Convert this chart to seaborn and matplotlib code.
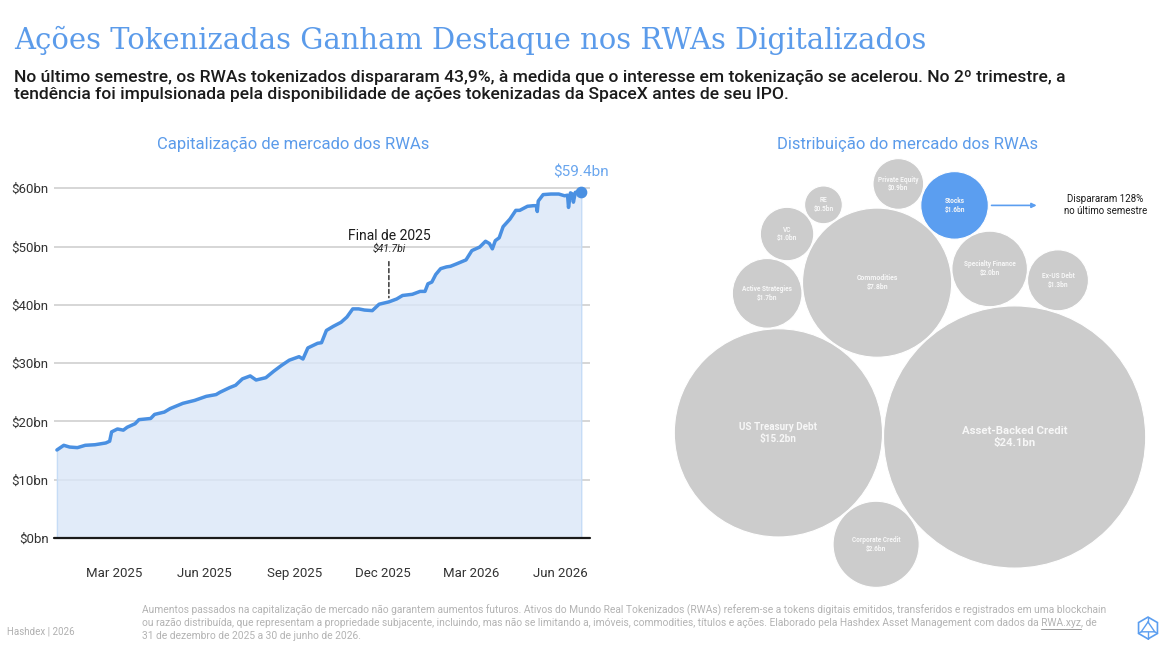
import numpy as np
import pandas as pd
import matplotlib.pyplot as plt
from matplotlib.patches import Circle, RegularPolygon
from matplotlib.lines import Line2D
import seaborn as sns

# ------------------------------
# Data
# ------------------------------
cap_dates = [
    "2025-01-01", "2025-01-08", "2025-01-14", "2025-01-22", "2025-01-30", "2025-02-09",
    "2025-02-20", "2025-02-24", "2025-02-26", "2025-03-04", "2025-03-10", "2025-03-14",
    "2025-03-22", "2025-03-26", "2025-04-07", "2025-04-11", "2025-04-21", "2025-04-27",
    "2025-05-10", "2025-05-22", "2025-06-03", "2025-06-13", "2025-06-17", "2025-06-27",
    "2025-07-03", "2025-07-10", "2025-07-18", "2025-07-24", "2025-08-03", "2025-08-11",
    "2025-08-19", "2025-08-27", "2025-09-06", "2025-09-10", "2025-09-15", "2025-09-25",
    "2025-09-29", "2025-10-04", "2025-10-11", "2025-10-19", "2025-10-25", "2025-10-31",
    "2025-11-06", "2025-11-12", "2025-11-20", "2025-11-27", "2025-12-07", "2025-12-15",
    "2025-12-21", "2025-12-31", "2026-01-08", "2026-01-13", "2026-01-16", "2026-01-20",
    "2026-01-24", "2026-01-29", "2026-02-04", "2026-02-08", "2026-02-14", "2026-02-24",
    "2026-03-02", "2026-03-10", "2026-03-16", "2026-03-20", "2026-03-23", "2026-03-26",
    "2026-03-30", "2026-04-03", "2026-04-10", "2026-04-16", "2026-04-20", "2026-04-28",
    "2026-05-04", "2026-05-07", "2026-05-08", "2026-05-09", "2026-05-14", "2026-05-22",
    "2026-05-30", "2026-06-05", "2026-06-08", "2026-06-09", "2026-06-11", "2026-06-13",
    "2026-06-14", "2026-06-16", "2026-06-22",
]
cap_values = [
    15.1, 15.9, 15.6, 15.5, 15.9, 16.0,
    16.3, 16.6, 18.2, 18.7, 18.5, 19.0,
    19.6, 20.3, 20.5, 21.2, 21.6, 22.2,
    23.1, 23.6, 24.3, 24.6, 25.0, 25.8,
    26.2, 27.3, 27.8, 27.1, 27.5, 28.6,
    29.6, 30.5, 31.1, 30.7, 32.6, 33.4,
    33.5, 35.6, 36.3, 37.0, 37.9, 39.3,
    39.3, 39.1, 39.0, 40.1, 40.5, 41.0,
    41.6, 41.8, 42.3, 42.3, 43.6, 43.9,
    45.2, 46.2, 46.5, 46.6, 47.0, 47.7,
    49.3, 49.9, 50.9, 50.5, 49.6, 51.0,
    51.5, 53.4, 54.7, 56.2, 56.2, 56.9,
    57.0, 57.0, 56.0, 57.8, 58.9, 59.0,
    59.0, 58.7, 58.8, 56.7, 59.2, 59.0,
    57.6, 59.3, 59.4,
]

marker_date = "2025-12-07"
marker_title = "Final de 2025"
marker_label = "$41.7bi"
last_label = "$59.4bn"

y_ticks = [0, 10, 20, 30, 40, 50, 60]
y_labels = ["$0bn", "$10bn", "$20bn", "$30bn", "$40bn", "$50bn", "$60bn"]
x_ticks = ["2025-03-01", "2025-06-01", "2025-09-01", "2025-12-01", "2026-03-01", "2026-06-01"]
x_labels = ["Mar 2025", "Jun 2025", "Sep 2025", "Dec 2025", "Mar 2026", "Jun 2026"]

bubble_names = ["Asset-Backed Credit", "US Treasury Debt", "Commodities", "Corporate Credit",
                "Specialty Finance", "Ex-US Debt", "Stocks", "Private Equity",
                "Active Strategies", "VC", "RE"]
bubble_values = [24.1, 15.2, 7.8, 2.6, 2.0, 1.3, 1.6, 0.9, 1.7, 1.0, 0.5]
highlight = "Stocks"
highlight_note = "Dispararam 128%\nno último semestre"

# packing rules: each bubble after the first two touches two earlier ones
pack_rules = [(1, 0, "up"), (1, 0, "down"), (2, 0, "up"), (4, 0, "right"),
              (2, 4, "up"), (2, 6, "up"), (1, 2, "left"), (8, 2, "up"), (9, 2, "up")]

title = "Ações Tokenizadas Ganham Destaque nos RWAs Digitalizados"
subtitle = ("No último semestre, os RWAs tokenizados dispararam 43,9%, à medida que o interesse em "
            "tokenização se acelerou. No 2º trimestre, a\ntendência foi impulsionada pela "
            "disponibilidade de ações tokenizadas da SpaceX antes de seu IPO.")
footer_lines = [
    "Aumentos passados na capitalização de mercado não garantem aumentos futuros. Ativos do Mundo Real "
    "Tokenizados (RWAs) referem-se a tokens digitais emitidos, transferidos e registrados em uma blockchain",
    "ou razão distribuída, que representam a propriedade subjacente, incluindo, mas não se limitando a, "
    "imóveis, commodities, títulos e ações. Elaborado pela Hashdex Asset Management com dados da RWA.xyz, de",
    "31 de dezembro de 2025 a 30 de junho de 2026.",
]
footer_link = "RWA.xyz"

# ------------------------------
# Style
# ------------------------------
sns.set_theme(style="white")
plt.rcParams["font.family"] = ["Roboto", "DejaVu Sans"]

BLUE = "#4a90e2"
TITLE_BLUE = "#5b9bea"
GRAY_BUBBLE = "#cccccc"

W, H = 1170, 646
fig = plt.figure(figsize=(W / 100, H / 100), dpi=100)


def px_rect(x0, y0, x1, y1):
    return [x0 / W, 1 - y1 / H, (x1 - x0) / W, (y1 - y0) / H]


# ------------------------------
# Headline
# ------------------------------
fig.text(14 / W, 1 - 40 / H, title, family="DejaVu Serif", fontsize=20.9,
         color=TITLE_BLUE, va="center", ha="left")
fig.text(14 / W, 1 - 86 / H, subtitle, fontsize=12.6, color="#1b1b1b", va="center",
         ha="left", linespacing=1.2, fontweight="medium")

# ------------------------------
# Line chart: market cap
# ------------------------------
df = pd.DataFrame({"date": pd.to_datetime(cap_dates), "value": cap_values})

ax = fig.add_axes(px_rect(54, 538 - 62 * 5.83, 590, 538))
ax.set_axisbelow(True)
ax.fill_between(df["date"], df["value"], 0, facecolor=(0.853, 0.906, 0.971, 0.8),
                edgecolor="#c6dcf6", lw=1, zorder=1)
sns.lineplot(data=df, x="date", y="value", color=BLUE, lw=2.5, ax=ax, zorder=3)
ax.scatter(df["date"].iloc[-1], df["value"].iloc[-1], s=55, color=BLUE, zorder=4)
ax.annotate(last_label, (df["date"].iloc[-1], df["value"].iloc[-1]), xytext=(0, 14),
            textcoords="offset points", ha="center", va="center", fontsize=11,
            color="#6aa6ee")

# year-end marker
m_date = pd.Timestamp(marker_date)
m_val = df.loc[df["date"] == m_date, "value"].iloc[0]
ax.annotate("", (m_date, m_val), xytext=(0, 29), textcoords="offset points",
            arrowprops=dict(arrowstyle="-", ls=(0, (3, 2)), color="#222222", lw=1,
                            shrinkA=0, shrinkB=3))
ax.annotate(marker_label, (m_date, m_val), xytext=(0, 38), textcoords="offset points",
            ha="center", va="center", fontsize=7.5, style="italic", color="#222222")
ax.annotate(marker_title, (m_date, m_val), xytext=(0, 47.5), textcoords="offset points",
            ha="center", va="center", fontsize=10, color="#1b1b1b")

ax.set_ylim(0, 62)
ax.set_xlim(pd.Timestamp("2024-12-29"), pd.Timestamp("2026-07-01"))
ax.set_yticks(y_ticks)
ax.set_yticklabels(y_labels)
ax.set_xticks(pd.to_datetime(x_ticks))
ax.set_xticklabels(x_labels)
ax.tick_params(axis="y", length=0, pad=4, labelsize=9.5, labelcolor="#333333")
ax.tick_params(axis="x", length=0, pad=21, labelsize=9.5, labelcolor="#333333")
ax.yaxis.grid(True, color="#cfcfcf", lw=1.2)
ax.axhline(0, color="#1a1a1a", lw=1.6, zorder=5, clip_on=False)
ax.set_xlabel("")
ax.set_ylabel("")
sns.despine(ax=ax, left=True, bottom=True)
fig.text(293 / W, 1 - 144 / H, "Capitalização de mercado dos RWAs", fontsize=12,
         color=TITLE_BLUE, ha="center", va="center")

# ------------------------------
# Bubble chart: market distribution
# ------------------------------
gap = 0.04
radii = np.sqrt(np.array(bubble_values))
centers = [np.array([0.0, 0.0])]
first_angle = np.deg2rad(179)
centers.append(centers[0] + (radii[0] + radii[1] + gap) * np.array([np.cos(first_angle),
                                                                     np.sin(first_angle)]))
pick_key = {"up": lambda p: p[1], "down": lambda p: -p[1],
            "left": lambda p: -p[0], "right": lambda p: p[0]}
for i, (a, b, pick) in enumerate(pack_rules, start=2):
    c1, c2 = centers[a], centers[b]
    d1, d2 = radii[a] + radii[i] + gap, radii[b] + radii[i] + gap
    v = c2 - c1
    d = np.hypot(*v)
    along = (d1 ** 2 - d2 ** 2 + d ** 2) / (2 * d)
    h = np.sqrt(max(d1 ** 2 - along ** 2, 0))
    base = c1 + along * v / d
    perp = np.array([-v[1], v[0]]) / d
    centers.append(max([base + h * perp, base - h * perp], key=pick_key[pick]))
centers = np.array(centers)

scale = 26.7  # pixels per sqrt(bn)
x_lo, x_hi = (centers[:, 0] - radii).min(), (centers[:, 0] + radii).max()
y_lo, y_hi = (centers[:, 1] - radii).min(), (centers[:, 1] + radii).max()
cx, cy = (x_lo + x_hi) / 2, (y_lo + y_hi) / 2
bx0, by0, bx1, by1 = 640, 150, 1170, 600
mid_x, mid_y = 910, 373

bax = fig.add_axes(px_rect(bx0, by0, bx1, by1))
bax.set_xlim(cx - (mid_x - bx0) / scale, cx + (bx1 - mid_x) / scale)
bax.set_ylim(cy - (by1 - mid_y) / scale, cy + (mid_y - by0) / scale)
bax.axis("off")

for name, val, (x, y), r in zip(bubble_names, bubble_values, centers, radii):
    color = "#5b9ef0" if name == highlight else GRAY_BUBBLE
    bax.add_patch(Circle((x, y), r, facecolor=color, edgecolor="white", lw=0.8))
    fs = np.interp(r * scale, [40, 75, 103, 131], [4.7, 5.0, 7.1, 8.2])
    bax.text(x, y, f"{name}\n${val:.1f}bn", ha="center", va="center", fontsize=fs,
             fontweight="bold", color="#f7f7f7", linespacing=1.15)

hi = bubble_names.index(highlight)
start = centers[hi] + np.array([radii[hi] + 0.12, 0])
end = start + np.array([1.69, 0])
bax.annotate("", xy=end, xytext=start,
             arrowprops=dict(arrowstyle="-|>", color="#5b9ef0", lw=1.2,
                             mutation_scale=7, shrinkA=0, shrinkB=0))
bax.text(end[0] + 2.58, end[1], highlight_note, ha="center", va="center", fontsize=7,
         color="#1b1b1b", linespacing=1.25)
fig.text(908 / W, 1 - 144 / H, "Distribuição do mercado dos RWAs", fontsize=12,
         color=TITLE_BLUE, ha="center", va="center")

# ------------------------------
# Footer
# ------------------------------
fig.text(7 / W, 1 - 631 / H, "Hashdex | 2026", fontsize=7, color="#b0b0b0",
         ha="left", va="center")
foot_kw = dict(fontsize=7.4, color="#b3b3b3", ha="left", va="center")
for k, line in enumerate(footer_lines):
    fig.text(142 / W, 1 - (610 + 13 * k) / H, line, **foot_kw)

# underline the source link
fig.canvas.draw()
rend = fig.canvas.get_renderer()
link_line = footer_lines[1]
prefix = link_line[:link_line.index(footer_link) + len(footer_link)]
t_a = fig.text(0, 0, prefix, **foot_kw)
t_b = fig.text(0, 0, footer_link, **foot_kw)
w_a = t_a.get_window_extent(rend).width
w_b = t_b.get_window_extent(rend).width
t_a.remove()
t_b.remove()
ux1 = 142 + w_a
ux0 = ux1 - w_b
uy = 1 - (623 + 6) / H
fig.add_artist(Line2D([ux0 / W, ux1 / W], [uy, uy], color="#9a9a9a", lw=0.7))

# logo
lax = fig.add_axes(px_rect(1136, 616, 1160, 640))
lax.set_xlim(-1.1, 1.1)
lax.set_ylim(-1.1, 1.1)
lax.axis("off")
lax.add_patch(RegularPolygon((0, 0), 6, radius=1.0, orientation=0,
                             facecolor="none", edgecolor="#5b9ef0", lw=1.2))
tri = np.array([[0, 0.55], [-0.62, -0.35], [0.62, -0.35], [0, 0.55]])
lax.plot(tri[:, 0], tri[:, 1], color="#5b9ef0", lw=1)
for (px, py), (qx, qy) in [((0, 0.55), (0, 1.0)), ((-0.62, -0.35), (-0.87, -0.5)),
                           ((0.62, -0.35), (0.87, -0.5)), ((0, -0.35), (0, -1.0))]:
    lax.plot([px, qx], [py, qy], color="#5b9ef0", lw=1)

fig.savefig("out.png", dpi=100)
